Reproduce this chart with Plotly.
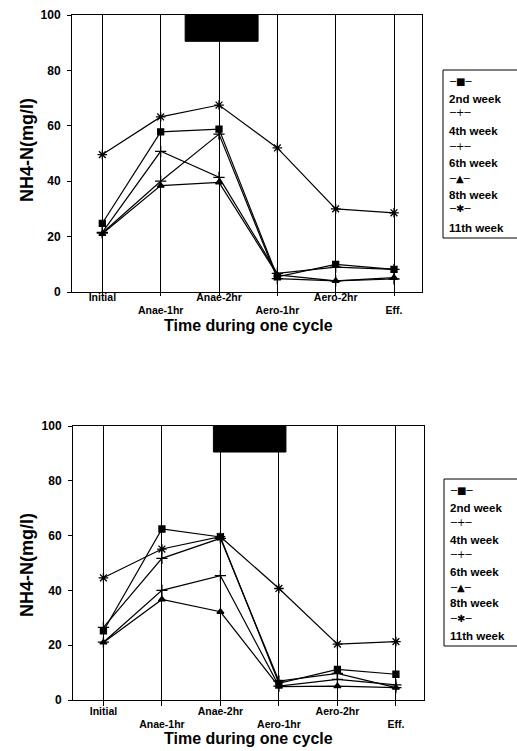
import plotly.graph_objects as go

# ---------------- data ----------------
categories = ["Initial", "Anae-1hr", "Anae-2hr", "Aero-1hr", "Aero-2hr", "Eff."]
tick_text = ["Initial", "<br>Anae-1hr", "Anae-2hr", "<br>Aero-1hr", "Aero-2hr", "<br>Eff."]
series_names = ["2nd week", "4th week", "6th week", "8th week", "11th week"]
y_ticks = [0, 20, 40, 60, 80, 100]

top_2nd = [24.8, 57.8, 58.8, 5.5, 10.0, 8.2]
top_4th = [21.3, 40.0, 57.0, 4.8, 4.0, 4.7]
top_6th = [21.5, 50.8, 41.4, 6.7, 9.0, 8.2]
top_8th = [21.0, 38.4, 39.6, 6.2, 4.0, 5.2]
top_11th = [49.6, 63.2, 67.5, 52.0, 30.0, 28.6]

bot_2nd = [25.2, 62.4, 59.5, 6.1, 11.2, 9.4]
bot_4th = [26.5, 51.7, 59.0, 6.9, 9.7, 4.5]
bot_6th = [21.1, 40.0, 45.4, 5.1, 7.5, 5.5]
bot_8th = [21.0, 36.7, 32.2, 4.9, 5.1, 4.5]
bot_11th = [44.6, 55.1, 59.6, 40.7, 20.4, 21.3]

top_block_x = [1.42, 2.67]
top_block_y = [90.5, 100]
bot_block_x = [1.88, 3.12]
bot_block_y = [90.5, 100]

# ---------------- style ----------------
W, H = 517, 751
FONT = "Liberation Sans"
symbols = ["square", "cross-thin", "cross-thin", "triangle-up", "asterisk"]
msizes = [6, 8, 8, 6, 8]
legend_glyphs = ["\u2500\u25a0\u2500", "\u2500+\u2500", "\u2500+\u2500", "\u2500\u25b2\u2500", "\u2500\u2731\u2500"]

xpos = list(range(len(categories)))

def px_x(p):
    return p / W

def px_y(p):
    return 1 - p / H

fig = go.Figure()

panels = [
    dict(data=[top_2nd, top_4th, top_6th, top_8th, top_11th], xa="x", ya="y",
         block_x=top_block_x, block_y=top_block_y),
    dict(data=[bot_2nd, bot_4th, bot_6th, bot_8th, bot_11th], xa="x2", ya="y2",
         block_x=bot_block_x, block_y=bot_block_y),
]

for pnl in panels:
    for name, vals, sym, ms in zip(series_names, pnl["data"], symbols, msizes):
        fig.add_trace(go.Scatter(
            x=xpos, y=vals, name=name, mode="lines+markers",
            xaxis=pnl["xa"], yaxis=pnl["ya"], showlegend=False,
            line=dict(color="black", width=1.2),
            marker=dict(symbol=sym, size=ms, color="black",
                        line=dict(color="black", width=1.3)),
        ))
    fig.add_shape(type="rect", xref=pnl["xa"], yref=pnl["ya"],
                  x0=pnl["block_x"][0], x1=pnl["block_x"][1],
                  y0=pnl["block_y"][0], y1=pnl["block_y"][1],
                  fillcolor="black", line=dict(color="black", width=1), layer="above")

xaxis_common = dict(
    range=[-0.52, 5.48], tickmode="array", tickvals=xpos, ticktext=tick_text,
    showgrid=True, gridcolor="black", gridwidth=1, zeroline=False,
    showline=True, linecolor="black", linewidth=1, mirror=True, automargin=False,
    ticks="outside", tickcolor="black",
    tickfont=dict(family=FONT, size=10.5, color="black", weight="bold"),
)
yaxis_common = dict(
    range=[0, 100], tickmode="array", tickvals=y_ticks,
    showgrid=False, zeroline=False, automargin=False,
    showline=True, linecolor="black", linewidth=1, mirror=True,
    ticks="outside", ticklen=4, tickcolor="black", ticklabelstandoff=4,
    tickfont=dict(family=FONT, size=12, color="black", weight="bold"),
)

fig.update_layout(
    width=W, height=H, margin=dict(l=0, r=0, t=0, b=0, autoexpand=False),
    paper_bgcolor="white", plot_bgcolor="white", showlegend=False,
    xaxis=dict(domain=[px_x(72), px_x(422)], anchor="y", ticklen=3,
               ticklabelstandoff=-8, **xaxis_common),
    yaxis=dict(domain=[px_y(292), px_y(15)], anchor="x", **yaxis_common),
    xaxis2=dict(domain=[px_x(73), px_x(424)], anchor="y2", ticklen=5,
                ticklabelstandoff=-4, **xaxis_common),
    yaxis2=dict(domain=[px_y(700), px_y(426)], anchor="x2", **yaxis_common),
)

annotations = []
# axis titles
for ty, yc in [(325, 150), (738, 565)]:
    annotations.append(dict(text="Time during one cycle", xref="paper", yref="paper",
                            x=px_x(248), y=px_y(ty), xanchor="center", yanchor="middle",
                            showarrow=False,
                            font=dict(family=FONT, size=16, color="black", weight="bold")))
    annotations.append(dict(text="NH4-N(mg/l)", xref="paper", yref="paper",
                            x=px_x(27), y=px_y(yc), xanchor="center", yanchor="middle",
                            textangle=-90, showarrow=False,
                            font=dict(family=FONT, size=18, color="black", weight="bold")))

# custom legends (symbol line above each label)
legend_boxes = [
    dict(x0=443, y0=70, y1=238, sym_y=[81, 113, 146, 178, 209], txt_y=[99, 131, 163, 195, 228]),
    dict(x0=444, y0=479, y1=646, sym_y=[490, 522, 554, 587, 618], txt_y=[508, 540, 572, 603, 636]),
]
for lb in legend_boxes:
    fig.add_shape(type="rect", xref="paper", yref="paper",
                  x0=px_x(lb["x0"]), x1=px_x(lb["x0"]) + 0.3,
                  y0=px_y(lb["y1"]), y1=px_y(lb["y0"]),
                  line=dict(color="black", width=1), fillcolor="rgba(0,0,0,0)")
    for g, sy, name, ty in zip(legend_glyphs, lb["sym_y"], series_names, lb["txt_y"]):
        annotations.append(dict(text=g, xref="paper", yref="paper",
                                x=px_x(lb["x0"] + 4), y=px_y(sy), xanchor="left", yanchor="middle",
                                showarrow=False,
                                font=dict(family="DejaVu Sans", size=10, color="black")))
        annotations.append(dict(text=name, xref="paper", yref="paper",
                                x=px_x(lb["x0"] + 4), y=px_y(ty), xanchor="left", yanchor="middle",
                                showarrow=False,
                                font=dict(family=FONT, size=11.5, color="black", weight="bold")))

fig.update_layout(annotations=annotations)

fig.write_html("out.html")
